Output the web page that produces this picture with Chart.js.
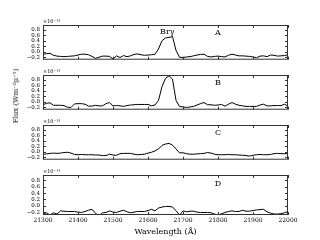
<!DOCTYPE html>
<html>
<head>
<meta charset="utf-8">
<script src="https://cdn.jsdelivr.net/npm/chart.js"></script>
<style>
  body { margin: 0; width: 320px; height: 240px; background: #fff; position: relative; overflow: hidden; font-family: "DejaVu Serif", serif; }
  canvas { position: absolute; left: 0; }
  #ylab { position: absolute; left: 16px; top: 96px; transform: translate(-50%, -50%) rotate(-90deg); font-size: 7px; white-space: nowrap; color: #000; }
</style>
</head>
<body>
<canvas id="pA" width="320" height="52" style="top:14px"></canvas>
<canvas id="pB" width="320" height="52" style="top:64px"></canvas>
<canvas id="pC" width="320" height="52" style="top:114px"></canvas>
<canvas id="pD" width="320" height="76" style="top:164px"></canvas>
<div id="ylab">Flux (Wm⁻²μ⁻¹)</div>
<script>
// wavelength grid in Angstrom
const wavelength = [21300, 21310, 21320, 21330, 21340, 21350, 21360, 21370, 21380, 21390,
  21400, 21410, 21420, 21430, 21440, 21450, 21460, 21470, 21480, 21490,
  21500, 21510, 21520, 21530, 21540, 21550, 21560, 21570, 21580, 21590,
  21600, 21610, 21620, 21630, 21640, 21650, 21660, 21670, 21680, 21690,
  21700, 21710, 21720, 21730, 21740, 21750, 21760, 21770, 21780, 21790,
  21800, 21810, 21820, 21830, 21840, 21850, 21860, 21870, 21880, 21890,
  21900, 21910, 21920, 21930, 21940, 21950, 21960, 21970, 21980, 21990, 22000];

// flux, units of 1e-14 W m^-2 um^-1
const fluxA = [-0.10, -0.07, -0.06, -0.13, -0.16, -0.17, -0.18, -0.17, -0.16, -0.15,
  -0.12, -0.09, -0.09, -0.11, -0.17, -0.24, -0.20, -0.16, -0.16, -0.17,
  -0.26, -0.15, -0.21, -0.14, -0.18, -0.15, -0.10, -0.08, -0.11, -0.13,
  -0.12, -0.11, -0.09, 0.10, 0.40, 0.50, 0.52, 0.55, 0.05, -0.20,
  -0.21, -0.19, -0.18, -0.15, -0.12, -0.10, -0.09, -0.17, -0.19, -0.17,
  -0.16, -0.18, -0.19, -0.13, -0.09, -0.12, -0.15, -0.15, -0.16, -0.17,
  -0.19, -0.22, -0.16, -0.15, -0.18, -0.12, -0.13, -0.16, -0.15, -0.14, -0.11];

const fluxB = [-0.11, -0.06, -0.04, -0.13, -0.13, -0.13, -0.14, -0.20, -0.21, -0.08,
  -0.07, -0.07, -0.09, -0.16, -0.16, -0.13, -0.15, -0.15, -0.07, -0.03,
  -0.15, -0.14, -0.15, -0.17, -0.14, -0.12, -0.11, -0.10, -0.10, -0.10,
  -0.10, -0.15, -0.12, 0.05, 0.55, 0.85, 0.94, 0.82, 0.05, -0.17,
  -0.19, -0.21, -0.19, -0.17, -0.12, -0.07, -0.03, -0.11, -0.11, -0.13,
  -0.12, -0.10, -0.16, -0.09, -0.03, -0.09, -0.13, -0.15, -0.17, -0.17,
  -0.17, -0.17, -0.12, -0.09, -0.15, -0.15, -0.14, -0.14, -0.14, -0.09, -0.16];

const fluxC = [-0.09, -0.08, -0.06, -0.05, -0.06, -0.05, -0.03, -0.02, -0.05, -0.10,
  -0.11, -0.10, -0.11, -0.11, -0.11, -0.12, -0.12, -0.14, -0.14, -0.09,
  -0.12, -0.13, -0.07, -0.06, -0.06, -0.06, -0.09, -0.11, -0.10, -0.09,
  -0.05, -0.02, 0.03, 0.10, 0.23, 0.28, 0.30, 0.24, 0.10, -0.04,
  -0.04, -0.07, -0.09, -0.09, -0.08, -0.07, -0.06, -0.03, -0.05, -0.09,
  -0.11, -0.11, -0.11, -0.10, -0.11, -0.11, -0.12, -0.13, -0.14, -0.16,
  -0.13, -0.11, -0.10, -0.11, -0.11, -0.10, -0.07, -0.06, -0.07, -0.07, -0.07];

const fluxD = [-0.27, -0.22, -0.29, -0.22, -0.26, -0.16, -0.17, -0.18, -0.18, -0.18,
  -0.20, -0.21, -0.18, -0.14, -0.11, -0.24, -0.31, -0.22, -0.21, -0.16,
  -0.20, -0.21, -0.17, -0.14, -0.19, -0.22, -0.20, -0.18, -0.18, -0.18,
  -0.15, -0.11, -0.16, -0.07, -0.04, -0.02, -0.02, -0.04, -0.15, -0.30,
  -0.16, -0.19, -0.17, -0.17, -0.20, -0.21, -0.21, -0.21, -0.22, -0.26,
  -0.29, -0.25, -0.21, -0.18, -0.16, -0.18, -0.18, -0.14, -0.17, -0.17,
  -0.15, -0.13, -0.12, -0.11, -0.19, -0.23, -0.26, -0.26, -0.25, -0.22, -0.18];

const panelNames = ['A', 'B', 'C', 'D'];
const xTicks = [21300, 21400, 21500, 21600, 21700, 21800, 21900, 22000];
const yTicks = [-0.2, 0.0, 0.2, 0.4, 0.6, 0.8];

const fmtY = v => (v < 0 ? '\u2212' : '') + Math.abs(v).toFixed(1);

// frame with inward ticks, scale factor and panel letter
const framePlugin = {
  id: 'frame',
  afterDatasetsDraw(chart, args, opts) {
    const {ctx, chartArea: a, scales: {x, y}} = chart;
    ctx.save();
    ctx.strokeStyle = '#333';
    ctx.lineWidth = 1;
    ctx.strokeRect(a.left + 0.5, a.top + 0.5, a.right - a.left - 1, a.bottom - a.top - 1);
    ctx.beginPath();
    xTicks.forEach(v => {
      const px = Math.round(x.getPixelForValue(v)) + 0.5;
      ctx.moveTo(px, a.bottom); ctx.lineTo(px, a.bottom - 3);
      ctx.moveTo(px, a.top); ctx.lineTo(px, a.top + 3);
    });
    yTicks.forEach(v => {
      const py = Math.round(y.getPixelForValue(v)) + 0.5;
      ctx.moveTo(a.left, py); ctx.lineTo(a.left + 3, py);
      ctx.moveTo(a.right, py); ctx.lineTo(a.right - 3, py);
    });
    ctx.stroke();

    ctx.fillStyle = '#000';
    ctx.font = '5px "DejaVu Serif"';
    ctx.textAlign = 'left';
    ctx.textBaseline = 'bottom';
    ctx.fillText('\u00d710\u207b\u00b9\u2074', a.left, a.top - 1);

    ctx.font = '8px "DejaVu Serif"';
    ctx.textAlign = 'center';
    ctx.textBaseline = 'middle';
    ctx.fillText(opts.name, x.getPixelForValue(21800), y.getPixelForValue(0.7));
    if (opts.line) {
      ctx.fillText(opts.line, x.getPixelForValue(21655), y.getPixelForValue(0.72));
    }
    ctx.restore();
  }
};

function makePanel(id, flux, idx) {
  const bottom = idx === 3;
  new Chart(document.getElementById(id), {
    type: 'line',
    data: {
      datasets: [{
        data: wavelength.map((w, i) => ({x: w, y: flux[i]})),
        borderColor: '#000',
        borderWidth: 1,
        pointRadius: 0,
        tension: 0,
        fill: false
      }]
    },
    options: {
      responsive: false,
      animation: false,
      layout: {padding: {left: 0, right: 32, top: 11, bottom: bottom ? 0 : 2}},
      plugins: {
        legend: {display: false},
        tooltip: {enabled: false},
        frame: {name: panelNames[idx], line: idx === 0 ? 'Br\u03b3' : null}
      },
      scales: {
        x: {
          type: 'linear',
          min: 21300,
          max: 22000,
          display: bottom,
          afterBuildTicks: s => { s.ticks = xTicks.map(v => ({value: v})); },
          afterFit: s => { s.height = bottom ? 25 : 0; },
          grid: {display: false, drawTicks: false},
          border: {display: false},
          ticks: {
            autoSkip: false,
            maxRotation: 0,
            padding: 2,
            color: '#000',
            font: {family: 'DejaVu Serif', size: 6},
            callback: v => String(v)
          },
          title: {
            display: bottom,
            text: 'Wavelength (\u00c5)',
            color: '#000',
            padding: {top: 0, bottom: 3},
            font: {family: 'DejaVu Serif', size: 8}
          }
        },
        y: {
          min: -0.29,
          max: 0.97,
          afterBuildTicks: s => { s.ticks = yTicks.map(v => ({value: v})); },
          afterFit: s => { s.width = 43; },
          grid: {display: false, drawTicks: false},
          border: {display: false},
          ticks: {
            autoSkip: false,
            padding: 3,
            color: '#000',
            font: {family: 'DejaVu Serif', size: 5.5},
            callback: v => fmtY(v)
          }
        }
      }
    },
    plugins: [framePlugin]
  });
}

makePanel('pA', fluxA, 0);
makePanel('pB', fluxB, 1);
makePanel('pC', fluxC, 2);
makePanel('pD', fluxD, 3);
</script>
</body>
</html>
